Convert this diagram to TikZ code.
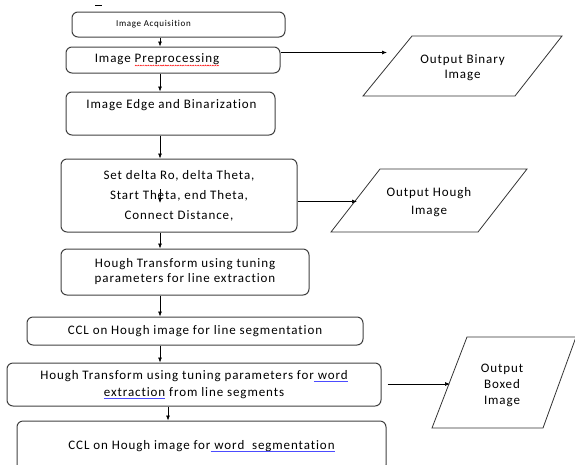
\documentclass[tikz,border=0pt]{standalone}
\usepackage{fontspec}
\setmainfont{Carlito}[LetterSpace=7,Ligatures=NoCommon]
\usetikzlibrary{arrows.meta}

% spell-check and grammar marks under words
\newsavebox\markbox
\newcommand\gramline[1]{\sbox\markbox{#1}\rlap{\usebox\markbox}%
  \raisebox{-2.8pt}{\textcolor{blue!70}{\rule{\wd\markbox}{0.7pt}}}}
\newcommand\spellwave[1]{\sbox\markbox{#1}\rlap{\usebox\markbox}%
  \raisebox{-3.6pt}{\hbox to \wd\markbox{\xleaders\hbox{\tikz[x=1pt,y=1pt]\draw[red,line width=0.45pt] (0,0)--(1,1)--(2,0);}\hfill}}}

\begin{document}
\begin{tikzpicture}[x=1pt,y=-1pt,font=\fontsize{13}{15}\selectfont,
  stepbox/.style={draw=black!75,line width=1pt,rounded corners=6pt,inner sep=0pt,align=center},
  arr/.style={-{Latex[length=5pt,width=4pt]},line width=0.7pt},
  io/.style={draw=black!80,line width=0.8pt}]

\useasboundingbox (0,0) rectangle (575,464);
\clip (0,0) rectangle (575,464);

% ---------- main column ----------
\node[stepbox,minimum width=213pt,minimum height=25pt] (acq) at (178.5,24.5) {};
\node[font=\fontsize{9}{10}\selectfont] (acqtext) at (153.5,24) {Image Acquisition};
\node[stepbox,minimum width=214pt,minimum height=26pt] (pre) at (173,60) {};
\node (pretext) at (157,60) {Image \spellwave{Preprocessing}};
\node[stepbox,minimum width=209pt,minimum height=43pt] (edge) at (170.5,113.5) {};
\node (edgetext) at (171.5,105) {Image Edge and Binarization};
\node[stepbox,minimum width=236pt,minimum height=73pt,font=\fontsize{13}{20}\selectfont] (param) at (179,195.5)
  {Set delta Ro, delta Theta,\\Start Theta, end Theta,\\Connect Distance,};
\node[stepbox,minimum width=248pt,minimum height=46pt] (hlines) at (185,272)
  {Hough Transform using tuning\\parameters for line extraction};
\node[stepbox,minimum width=336pt,minimum height=28pt] (ccllines) at (195,331)
  {CCL on Hough image for line segmentation};
\node[stepbox,minimum width=374pt,minimum height=43pt,font=\fontsize{13}{17}\selectfont] (hwords) at (194,384.5)
  {Hough Transform using tuning parameters for\gramline{ word}\\\gramline{extraction} from line segments};
\node[stepbox,minimum width=369pt,minimum height=50pt] (cclwords) at (201.5,446)
  {CCL on Hough image for\gramline{ word\ \ segmentation}};

% ---------- outputs ----------
\draw[io] (363,96) -- (412,36) -- (562,36) -- (515,96) -- cycle;
\node[align=center] (outbin) at (462.5,68) {Output Binary\\Image};
\coordinate (outbinin) at (387,52.5);

\draw[io] (331,232) -- (380,169) -- (527,169) -- (478,232) -- cycle;
\node[align=center,font=\fontsize{13}{18}\selectfont] (outhough) at (429,202) {Output Hough\\Image};
\coordinate (outhoughin) at (357,201.5);

\draw[io] (432,428) -- (467,337) -- (576,337) -- (543,428) -- cycle;
\node[align=center,font=\fontsize{13}{16}\selectfont] (outbox) at (502,385) {Output\\Boxed\\Image};
\coordinate (outboxin) at (450,384);

% ---------- connectors ----------
\coordinate (spine) at (160,0);
\coordinate (spineb) at (168,0);
\draw[arr] (acq.south -| spine) -- (pre.north -| spine);
\draw[arr] (pre.south -| spine) -- (edge.north -| spine);
\draw[arr] (edge.south -| spine) -- (param.north -| spine);
\draw[arr] (param.south -| spine) -- (hlines.north -| spine);
\draw[arr] (hlines.south -| spine) -- (ccllines.north -| spine);
\draw[arr] (ccllines.south -| spine) -- (hwords.north -| spine);
\draw[arr] (hwords.south -| spineb) -- (cclwords.north -| spineb);

\draw[arr] (pre.east |- outbinin) -- (outbinin);
\draw[arr] (param.east |- outhoughin) -- (outhoughin);
\draw[arr,shorten <=6pt] (hwords.east |- outboxin) -- (outboxin);

% stray marks
\coordinate (stray) at (160,189);
\draw[arr] (stray) -- ++(0,14);
\draw[line width=0.8pt] (95,5.5) -- (102,5.5);

\end{tikzpicture}
\end{document}
